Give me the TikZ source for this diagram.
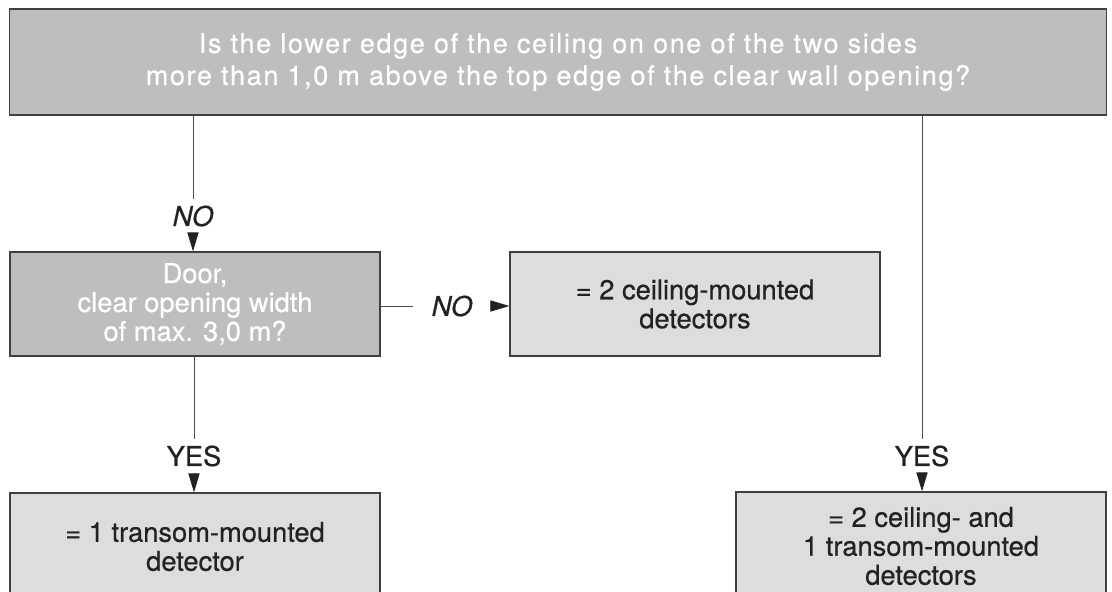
\documentclass[tikz,border=0pt]{standalone}
\usepackage{fontspec}
\setmainfont{TeX Gyre Heros}[FakeBold=0.6]
\usetikzlibrary{arrows.meta,positioning}
\definecolor{qgray}{HTML}{BEBEBE}
\definecolor{agray}{HTML}{DDDDDD}
\definecolor{edge}{HTML}{404040}
\definecolor{ink}{HTML}{222222}
\newcommand{\boxfont}{\fontsize{19.4}{20.6}\selectfont}
\newcommand{\headfont}{\fontsize{19.2}{22.8}\selectfont\addfontfeatures{LetterSpace=6}}

\begin{document}
\begin{tikzpicture}[x=0.025cm,y=-0.025cm,
question/.style={draw=edge,line width=0.9pt,fill=qgray,text=white,align=center,inner sep=0pt,font=\boxfont},
answer/.style={question,fill=agray,text=ink},
lbl/.style={inner sep=0pt,text=ink,font=\boxfont},
wire/.style={draw=ink!80,line width=0.6pt},
ref/.style={-{Triangle[length=0.475cm,width=0.28cm]},line width=0.6pt,ink}]
\useasboundingbox (0,0) rectangle (1112,592);
\clip (0,0) rectangle (1112,592);
% boxes
\node[question,font=\headfont,minimum width=27.4cm,minimum height=2.65cm] (ceil) at (558,62)
  {Is the lower edge of the ceiling on one of the two sides\\more than 1,0 m above the top edge of the clear wall opening?};
\node[question,minimum width=9.25cm,minimum height=2.6cm] (door) at (195,304)
  {Door,\\clear opening width\\of max. 3,0 m?};
\node[answer,minimum width=9.25cm,minimum height=2.6cm] (twoceil) at (695,304)
  {= 2 ceiling-mounted\\detectors};
\node[answer,minimum width=9.25cm,minimum height=2.675cm] (onetrans) at (195,546.5)
  {= 1 transom-mounted\\detector};
\node[answer,minimum width=9.25cm,minimum height=2.7cm] (both) at (921,546)
  {= 2 ceiling- and\\1 transom-mounted\\detectors};
% labels on the connectors
\node[lbl,font=\boxfont\itshape,minimum height=0.85cm] (no1) at (193,216) {NO};
\node[lbl,font=\boxfont\itshape,minimum width=1.925cm] (no2) at (452,306) {NO};
\node[lbl,minimum height=0.85cm] (yes1) at (194,456) {YES};
\node[lbl,minimum height=0.85cm] (yes2) at (922,456) {YES};
% connectors
\draw[wire] (no1 |- ceil.south) -- (no1.north); \draw[ref] (no1.south) -- (no1 |- door.north);
\draw[wire] (door.east |- no2) -- (no2.west); \draw[ref] (no2.east) -- (no2 -| twoceil.west);
\draw[wire] (yes1 |- door.south) -- (yes1.north); \draw[ref] (yes1.south) -- (yes1 |- onetrans.north);
\draw[wire] (yes2 |- ceil.south) -- (yes2.north); \draw[ref] (yes2.south) -- (yes2 |- both.north);
\end{tikzpicture}
\end{document}
